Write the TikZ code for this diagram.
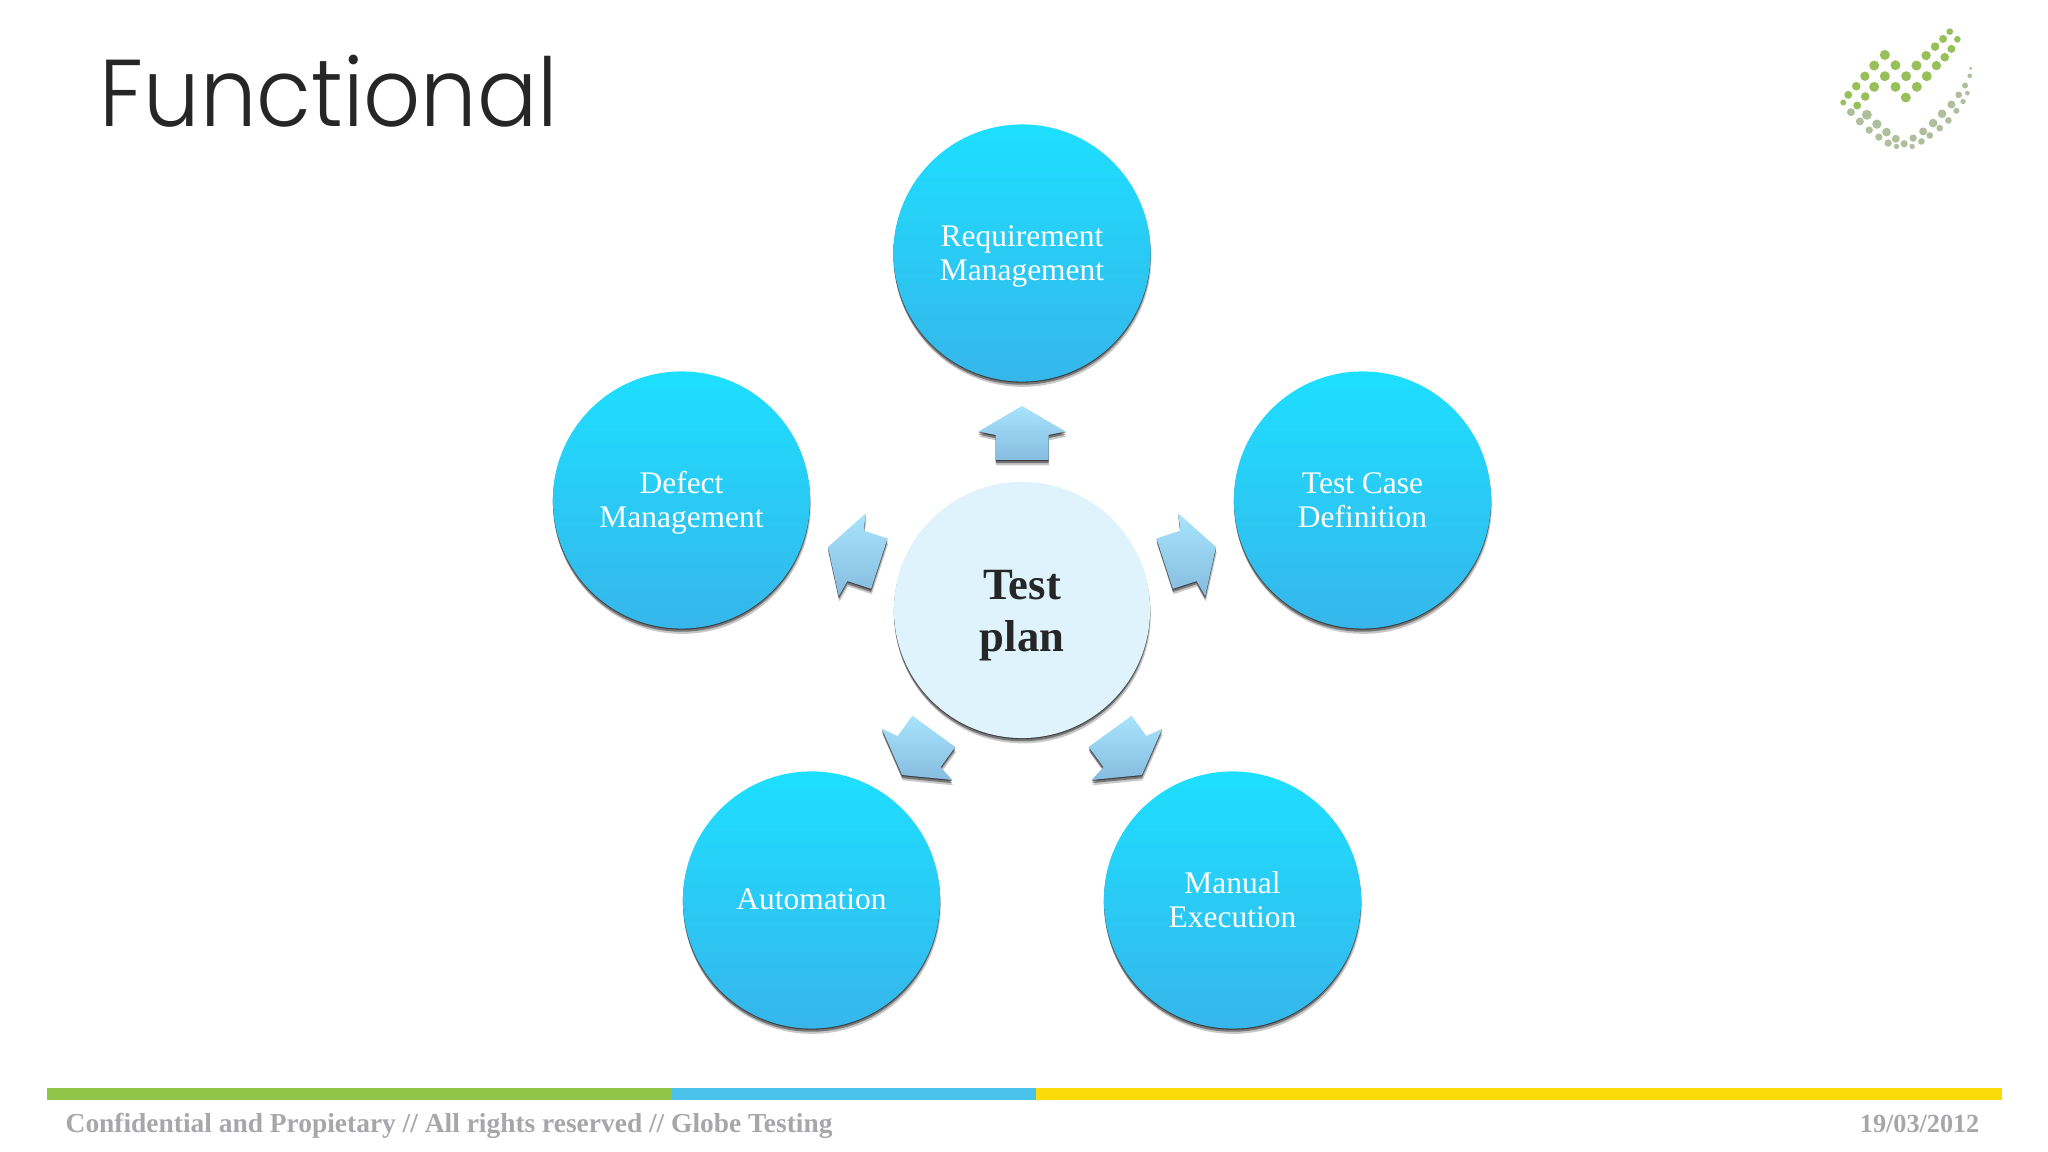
\documentclass[tikz,border=0pt]{standalone}
\usepackage{fontspec}
\setmainfont{Liberation Serif}
\newfontfamily\titlefont[FakeStretch=0.94]{Poppins Light}
\usetikzlibrary{shadows}
\definecolor{circtop}{HTML}{1DDFFF}
\definecolor{circbot}{HTML}{36B6EA}
\definecolor{centrefill}{HTML}{DFF3FC}
\definecolor{arrowtop}{HTML}{A8E4FC}
\definecolor{arrowbot}{HTML}{86BCE0}
\definecolor{logogreen}{HTML}{98C05A}
\definecolor{logogrey}{HTML}{AFBE9C}
\definecolor{footgrey}{HTML}{A7A7AB}
\tikzstyle{softshadow} = [general shadow={shadow xshift=0pt,shadow yshift=-0.3pt,opacity=.5,fill=black},
	general shadow={shadow xshift=0pt,shadow yshift=-0.9pt,opacity=.4,fill=black},
	general shadow={shadow xshift=0.2pt,shadow yshift=-1.5pt,opacity=.22,fill=black}]
\tikzstyle{topic} = [circle, minimum size=2.57cm, inner sep=0pt, align=center, softshadow,
	top color=circtop, bottom color=circbot, text=white, font=\fontsize{8.95}{9.7}\selectfont,
	execute at begin node=\rule{0pt}{8.3pt}, execute at end node=\strut]
\tikzstyle{twolines} = [execute at begin node=\rule{0pt}{18.6pt}]
\tikzstyle{centre} = [circle, minimum size=2.56cm, inner sep=0pt, align=center, softshadow,
	fill=centrefill, text=black!85, font=\fontsize{12.7}{14.6}\selectfont\bfseries,
	execute at begin node=\rule{0pt}{27.8pt}, execute at end node=\strut]
\tikzstyle{blockarrow} = [softshadow, top color=arrowtop, bottom color=arrowbot]
\tikzstyle{footer} = [inner sep=0pt, anchor=base west, text=footgrey, font=\fontsize{7.8}{8}\selectfont\bfseries]
\begin{document}
\begin{tikzpicture}[x=0.01cm,y=-0.01cm]
	\useasboundingbox[fill=white] (0,0) rectangle (2048,1152);
	\node[inner sep=0pt, anchor=base west, text=black!85, font=\fontsize{27}{30}\selectfont\titlefont] (title) at (99,127) {Functional};
	% logo, dots read off in a 3x crop
	\begin{scope}[shift={(1780,0)},x=0.00333cm,y=-0.00333cm]
		\foreach \px/\py/\pr in {315/165/15,283/197/15,347/196/15,410/197/15,439/167/14,466/140/13,490/117/12,510/95/10,
			533/118/10,515/147/12,495/172/13,470/197/14,441/229/15,411/261/15,378/293/15,379/229/15,347/261/15,315/229/15,
			283/261/15,255/229/14,229/259/13,205/285/12,190/308/9,232/317/12,256/290/13}
			\fill[logogreen] (\px,\py) circle (\pr);
		\foreach \px/\py/\pr in {213/337/12,261/345/15,240/365/12,291/373/14,268/391/11,320/397/13,297/412/11,348/417/12,325/430/11,
			373/432/11,350/440/8,400/415/11,425/425/10,397/440/8,430/395/12,450/407/10,460/370/13,480/385/10,487/342/13,506/362/10,
			515/314/12,530/333/9,537/285/10,550/305/8,556/257/9,563/280/7,570/228/7,573/205/5}
			\fill[logogrey] (\px,\py) circle (\pr);
	\end{scope}
	\foreach \ang in {0,72,144,216,288}
		\draw[blockarrow,draw=none,shift={(1022,610)},rotate=\ang] (0,-204) -- (43.5,-178.5) -- (26.5,-175) -- (26.5,-150) -- (-26.5,-150) -- (-26.5,-175) -- (-43.5,-178.5) -- cycle;
	\node[topic,twolines] (reqmgmt) at (1022,253) {Requirement\\Management};
	\node[topic,twolines] (defectmgmt) at (681.5,500) {Defect\\Management};
	\node[topic,twolines] (casedef) at (1362.5,500) {Test Case\\Definition};
	\node[topic] (automation) at (811.5,900) {Automation};
	\node[topic,twolines] (manualexec) at (1232.5,900) {Manual\\Execution};
	\node[centre] (testplan) at (1022,610) {Test\\plan};
	\fill[fill={rgb,255:red,143;green,198;blue,74}] (47,1088) rectangle (672,1100);
	\fill[fill={rgb,255:red,74;green,195;blue,236}] (672,1088) rectangle (1036,1100);
	\fill[fill={rgb,255:red,250;green,220;blue,10}] (1036,1088) rectangle (2002,1100);
	\node[footer] (notice) at (65,1132) {Confidential and Propietary // All rights reserved // Globe Testing};
	\node[footer, anchor=base east, font=\fontsize{7.45}{8}\selectfont\bfseries] (date) at (1980,1132) {19/03/2012};
\end{tikzpicture}
\end{document}
